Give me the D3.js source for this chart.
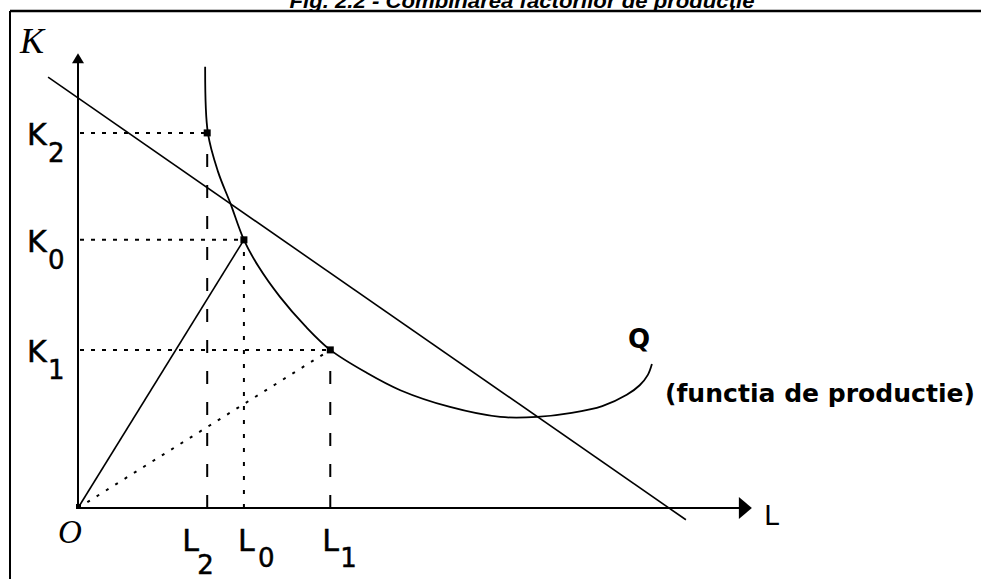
<!DOCTYPE html>
<html>
<head>
<meta charset="utf-8">
<script src="https://cdn.jsdelivr.net/npm/d3@7/dist/d3.min.js"></script>
<style>
  body { margin: 0; background: #fff; }
  svg { display: block; }
</style>
</head>
<body>
<svg id="chart" width="981" height="579"></svg>
<script>
// ---- data (axis units) ----
const titleText = "Fig. 2.2 - Combinarea factorilor de producție";
const isoL = [1.87, 1.91, 2.06, 2.24, 2.44, 2.65, 2.97, 3.34, 3.71, 4.25, 4.74, 5.47, 6.21, 6.75, 7.26, 7.71, 8.07, 8.26, 8.38, 8.44];
const isoK = [9.74, 8.28, 7.42, 6.73, 5.92, 5.34, 4.66, 4.02, 3.49, 2.98, 2.60, 2.23, 2.01, 2.01, 2.10, 2.25, 2.50, 2.71, 2.94, 3.18];
const budgetL = [-0.44, 8.94];
const budgetK = [9.51, -0.26];
const levels = ["2", "0", "1"];
const levelL = [1.90, 2.44, 3.71];
const levelK = [8.28, 5.92, 3.49];
const axisMaxL = 9.91;
const axisMaxK = 10.04;

// ---- presentation ----
const lLabelStyle = { "2": { dx: -25, sdx: -10, sdy: 23 }, "0": { dx: -6, sdx: 14, sdy: 16 }, "1": { dx: -8, sdx: 10, sdy: 16 } };

const svg = d3.select("#chart");
const x = d3.scaleLinear().domain([0, 10]).range([78, 758]);
const y = d3.scaleLinear().domain([0, 10]).range([508, 55]);

// frame & title
svg.append("line").attr("x1", 10).attr("x2", 981).attr("y1", 11).attr("y2", 11)
  .attr("stroke", "#000").attr("stroke-width", 2.5);
svg.append("line").attr("x1", 10).attr("x2", 10).attr("y1", 11).attr("y2", 579)
  .attr("stroke", "#000").attr("stroke-width", 2);
svg.append("text").attr("x", 522).attr("y", 8).attr("text-anchor", "middle")
  .attr("font-family", "Liberation Sans, Arial, sans-serif").attr("font-weight", "bold")
  .attr("font-style", "italic").attr("font-size", 20)
  .attr("textLength", 465).attr("lengthAdjust", "spacingAndGlyphs")
  .text(titleText);

// guide lines
const hStyle = "4,7";
const vStyles = { "2": "13,18", "0": "4,10", "1": "13,18" };
levels.forEach((lv, i) => {
  svg.append("line").attr("x1", x(0) + 2).attr("x2", x(levelL[i]))
    .attr("y1", y(levelK[i])).attr("y2", y(levelK[i]))
    .attr("stroke", "#000").attr("stroke-width", 2).attr("stroke-dasharray", hStyle);
  svg.append("line").attr("x1", x(levelL[i])).attr("x2", x(levelL[i]))
    .attr("y1", y(0)).attr("y2", y(levelK[i]))
    .attr("stroke", "#000").attr("stroke-width", 2).attr("stroke-dasharray", vStyles[lv]);
});

// rays from origin
svg.append("line").attr("x1", x(0)).attr("y1", y(0)).attr("x2", x(levelL[1])).attr("y2", y(levelK[1]))
  .attr("stroke", "#000").attr("stroke-width", 1.6);
svg.append("line").attr("x1", x(0)).attr("y1", y(0)).attr("x2", x(levelL[2])).attr("y2", y(levelK[2]))
  .attr("stroke", "#000").attr("stroke-width", 2).attr("stroke-dasharray", "3,8");

// budget line
svg.append("line").attr("x1", x(budgetL[0])).attr("y1", y(budgetK[0]))
  .attr("x2", x(budgetL[1])).attr("y2", y(budgetK[1]))
  .attr("stroke", "#000").attr("stroke-width", 1.6);

// isoquant
const iso = isoL.map((l, i) => [l, isoK[i]]);
svg.append("path").datum(iso)
  .attr("d", d3.line().x(d => x(d[0])).y(d => y(d[1])).curve(d3.curveCatmullRom.alpha(0.5)))
  .attr("fill", "none").attr("stroke", "#000").attr("stroke-width", 1.8);

// axes
svg.append("line").attr("x1", x(0)).attr("y1", y(0)).attr("x2", x(0)).attr("y2", y(axisMaxK) + 8)
  .attr("stroke", "#000").attr("stroke-width", 2);
svg.append("line").attr("x1", x(0)).attr("y1", y(0)).attr("x2", x(axisMaxL) - 10).attr("y2", y(0))
  .attr("stroke", "#000").attr("stroke-width", 2);
svg.append("path")
  .attr("d", `M${x(0)},${y(axisMaxK)} L${x(0) - 6},${y(axisMaxK) + 10} L${x(0) + 6},${y(axisMaxK) + 10} Z`)
  .attr("fill", "#000");
svg.append("path")
  .attr("d", `M${x(axisMaxL)},${y(0)} L${x(axisMaxL) - 13},${y(0) - 11} L${x(axisMaxL) - 13},${y(0) + 11} Z`)
  .attr("fill", "#000");

// points
levels.forEach((lv, i) => {
  svg.append("rect").attr("x", x(levelL[i]) - 3.5).attr("y", y(levelK[i]) - 3.5)
    .attr("width", 7).attr("height", 7).attr("fill", "#000");
});
svg.append("rect").attr("x", x(0) - 2).attr("y", y(0) - 4).attr("width", 5).attr("height", 5).attr("fill", "#000");

// labels
const sans = "DejaVu Sans, Verdana, sans-serif";
svg.append("text").attr("x", 20).attr("y", 53)
  .attr("font-family", "Liberation Serif, Times New Roman, serif").attr("font-style", "italic")
  .attr("font-size", 36).text("K");
svg.append("text").attr("x", 58).attr("y", 543)
  .attr("font-family", "Liberation Serif, Times New Roman, serif").attr("font-style", "italic")
  .attr("font-size", 33).text("O");
svg.append("text").attr("x", x(axisMaxL) + 12).attr("y", y(0) + 17)
  .attr("font-family", sans).attr("font-size", 27).text("L");

const labelG = svg.append("g").attr("font-family", sans).attr("stroke", "#000").attr("stroke-width", 0.5);
levels.forEach((lv, i) => {
  const ky = y(levelK[i]);
  labelG.append("text").attr("x", 27).attr("y", ky + 12)
    .attr("font-size", 30).text("K");
  labelG.append("text").attr("x", 48).attr("y", ky + 29)
    .attr("font-size", 26).text(lv);
  const lx = x(levelL[i]);
  const st = lLabelStyle[lv];
  labelG.append("text").attr("x", lx + st.dx).attr("y", 551)
    .attr("font-size", 30).text("L");
  labelG.append("text").attr("x", lx + st.sdx).attr("y", 551 + st.sdy)
    .attr("font-size", 26).text(lv);
});

svg.append("text").attr("x", 628).attr("y", 348)
  .attr("font-family", sans).attr("font-weight", "bold").attr("font-size", 26).text("Q");
svg.append("text").attr("x", 665).attr("y", 402)
  .attr("font-family", sans).attr("font-weight", "bold").attr("font-size", 24)
  .attr("textLength", 310).attr("lengthAdjust", "spacingAndGlyphs")
  .text("(functia de productie)");
</script>
</body>
</html>
